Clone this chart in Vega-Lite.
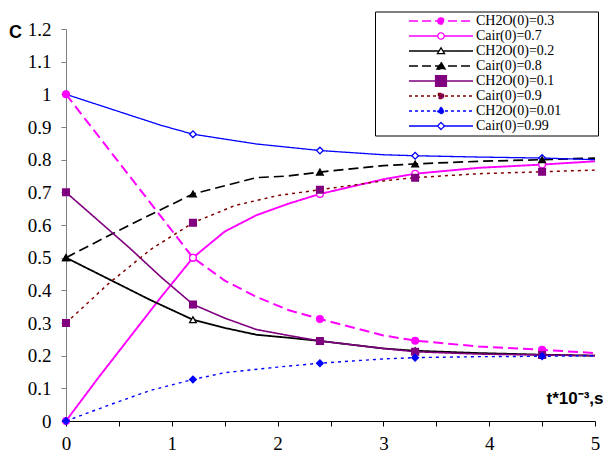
{
  "$schema": "https://vega.github.io/schema/vega-lite/v6.json",
  "width": 529,
  "height": 392,
  "autosize": {"type": "none"},
  "padding": {"left": 66, "top": 29, "right": 8, "bottom": 31},
  "background": "white",
  "config": {
    "view": {"stroke": null},
    "font": "Liberation Serif",
    "axis": {"grid": false, "labelColor": "black", "titleColor": "black"}
  },
  "datasets": {
    "curves": [
      {"s": "CH2O(0)=0.3", "t": 0, "c": 1.0},
      {"s": "CH2O(0)=0.3", "t": 0.6, "c": 0.75},
      {"s": "CH2O(0)=0.3", "t": 1.2, "c": 0.5},
      {"s": "CH2O(0)=0.3", "t": 1.5, "c": 0.43},
      {"s": "CH2O(0)=0.3", "t": 1.8, "c": 0.38},
      {"s": "CH2O(0)=0.3", "t": 2.1, "c": 0.34},
      {"s": "CH2O(0)=0.3", "t": 2.4, "c": 0.312},
      {"s": "CH2O(0)=0.3", "t": 3.0, "c": 0.262},
      {"s": "CH2O(0)=0.3", "t": 3.3, "c": 0.246},
      {"s": "CH2O(0)=0.3", "t": 3.9, "c": 0.228},
      {"s": "CH2O(0)=0.3", "t": 4.5, "c": 0.218},
      {"s": "CH2O(0)=0.3", "t": 5.0, "c": 0.208},
      {"s": "Cair(0)=0.7", "t": 0, "c": 0},
      {"s": "Cair(0)=0.7", "t": 0.3, "c": 0.13},
      {"s": "Cair(0)=0.7", "t": 0.6, "c": 0.255},
      {"s": "Cair(0)=0.7", "t": 0.9, "c": 0.38},
      {"s": "Cair(0)=0.7", "t": 1.2, "c": 0.5},
      {"s": "Cair(0)=0.7", "t": 1.5, "c": 0.58},
      {"s": "Cair(0)=0.7", "t": 1.8, "c": 0.63},
      {"s": "Cair(0)=0.7", "t": 2.1, "c": 0.665},
      {"s": "Cair(0)=0.7", "t": 2.4, "c": 0.695},
      {"s": "Cair(0)=0.7", "t": 3.0, "c": 0.74},
      {"s": "Cair(0)=0.7", "t": 3.3, "c": 0.757},
      {"s": "Cair(0)=0.7", "t": 3.9, "c": 0.775},
      {"s": "Cair(0)=0.7", "t": 4.5, "c": 0.785},
      {"s": "Cair(0)=0.7", "t": 5.0, "c": 0.795},
      {"s": "CH2O(0)=0.2", "t": 0, "c": 0.5},
      {"s": "CH2O(0)=0.2", "t": 0.4, "c": 0.435},
      {"s": "CH2O(0)=0.2", "t": 0.8, "c": 0.37},
      {"s": "CH2O(0)=0.2", "t": 1.2, "c": 0.31},
      {"s": "CH2O(0)=0.2", "t": 1.5, "c": 0.285},
      {"s": "CH2O(0)=0.2", "t": 1.8, "c": 0.264},
      {"s": "CH2O(0)=0.2", "t": 2.1, "c": 0.255},
      {"s": "CH2O(0)=0.2", "t": 2.4, "c": 0.245},
      {"s": "CH2O(0)=0.2", "t": 3.0, "c": 0.222},
      {"s": "CH2O(0)=0.2", "t": 3.3, "c": 0.215},
      {"s": "CH2O(0)=0.2", "t": 3.9, "c": 0.208},
      {"s": "CH2O(0)=0.2", "t": 4.5, "c": 0.203},
      {"s": "CH2O(0)=0.2", "t": 5.0, "c": 0.2},
      {"s": "Cair(0)=0.8", "t": 0, "c": 0.5},
      {"s": "Cair(0)=0.8", "t": 0.6, "c": 0.6},
      {"s": "Cair(0)=0.8", "t": 1.2, "c": 0.695},
      {"s": "Cair(0)=0.8", "t": 1.5, "c": 0.72},
      {"s": "Cair(0)=0.8", "t": 1.8, "c": 0.745},
      {"s": "Cair(0)=0.8", "t": 2.1, "c": 0.75},
      {"s": "Cair(0)=0.8", "t": 2.4, "c": 0.762},
      {"s": "Cair(0)=0.8", "t": 3.0, "c": 0.782},
      {"s": "Cair(0)=0.8", "t": 3.3, "c": 0.787},
      {"s": "Cair(0)=0.8", "t": 3.9, "c": 0.795},
      {"s": "Cair(0)=0.8", "t": 4.5, "c": 0.8},
      {"s": "Cair(0)=0.8", "t": 5.0, "c": 0.805},
      {"s": "CH2O(0)=0.1", "t": 0, "c": 0.7},
      {"s": "CH2O(0)=0.1", "t": 0.6, "c": 0.53},
      {"s": "CH2O(0)=0.1", "t": 0.9, "c": 0.44},
      {"s": "CH2O(0)=0.1", "t": 1.2, "c": 0.357},
      {"s": "CH2O(0)=0.1", "t": 1.5, "c": 0.315},
      {"s": "CH2O(0)=0.1", "t": 1.8, "c": 0.28},
      {"s": "CH2O(0)=0.1", "t": 2.1, "c": 0.262},
      {"s": "CH2O(0)=0.1", "t": 2.4, "c": 0.245},
      {"s": "CH2O(0)=0.1", "t": 3.0, "c": 0.222},
      {"s": "CH2O(0)=0.1", "t": 3.3, "c": 0.212},
      {"s": "CH2O(0)=0.1", "t": 3.9, "c": 0.205},
      {"s": "CH2O(0)=0.1", "t": 4.5, "c": 0.202},
      {"s": "CH2O(0)=0.1", "t": 5.0, "c": 0.2},
      {"s": "Cair(0)=0.9", "t": 0, "c": 0.3},
      {"s": "Cair(0)=0.9", "t": 0.4, "c": 0.42},
      {"s": "Cair(0)=0.9", "t": 0.8, "c": 0.525},
      {"s": "Cair(0)=0.9", "t": 1.2, "c": 0.607},
      {"s": "Cair(0)=0.9", "t": 1.6, "c": 0.66},
      {"s": "Cair(0)=0.9", "t": 2.0, "c": 0.69},
      {"s": "Cair(0)=0.9", "t": 2.4, "c": 0.708},
      {"s": "Cair(0)=0.9", "t": 3.0, "c": 0.735},
      {"s": "Cair(0)=0.9", "t": 3.3, "c": 0.745},
      {"s": "Cair(0)=0.9", "t": 3.9, "c": 0.757},
      {"s": "Cair(0)=0.9", "t": 4.5, "c": 0.763},
      {"s": "Cair(0)=0.9", "t": 5.0, "c": 0.768},
      {"s": "CH2O(0)=0.01", "t": 0, "c": 0},
      {"s": "CH2O(0)=0.01", "t": 0.4, "c": 0.048},
      {"s": "CH2O(0)=0.01", "t": 0.8, "c": 0.094},
      {"s": "CH2O(0)=0.01", "t": 1.2, "c": 0.127},
      {"s": "CH2O(0)=0.01", "t": 1.5, "c": 0.148},
      {"s": "CH2O(0)=0.01", "t": 2.0, "c": 0.165},
      {"s": "CH2O(0)=0.01", "t": 2.4, "c": 0.177},
      {"s": "CH2O(0)=0.01", "t": 3.0, "c": 0.19},
      {"s": "CH2O(0)=0.01", "t": 3.3, "c": 0.194},
      {"s": "CH2O(0)=0.01", "t": 3.9, "c": 0.197},
      {"s": "CH2O(0)=0.01", "t": 4.5, "c": 0.198},
      {"s": "CH2O(0)=0.01", "t": 5.0, "c": 0.2},
      {"s": "Cair(0)=0.99", "t": 0, "c": 1.0},
      {"s": "Cair(0)=0.99", "t": 0.9, "c": 0.905},
      {"s": "Cair(0)=0.99", "t": 1.2, "c": 0.878},
      {"s": "Cair(0)=0.99", "t": 1.8, "c": 0.848},
      {"s": "Cair(0)=0.99", "t": 2.4, "c": 0.828},
      {"s": "Cair(0)=0.99", "t": 3.0, "c": 0.815},
      {"s": "Cair(0)=0.99", "t": 3.3, "c": 0.812},
      {"s": "Cair(0)=0.99", "t": 3.9, "c": 0.808},
      {"s": "Cair(0)=0.99", "t": 4.5, "c": 0.805},
      {"s": "Cair(0)=0.99", "t": 5.0, "c": 0.8}
    ],
    "markers": [
      {"s": "Cair(0)=0.99", "t": 0, "c": 1.0},
      {"s": "Cair(0)=0.99", "t": 1.2, "c": 0.878},
      {"s": "Cair(0)=0.99", "t": 2.4, "c": 0.828},
      {"s": "Cair(0)=0.99", "t": 3.3, "c": 0.812},
      {"s": "Cair(0)=0.99", "t": 4.5, "c": 0.805},
      {"s": "CH2O(0)=0.3", "t": 0, "c": 1.0},
      {"s": "CH2O(0)=0.3", "t": 1.2, "c": 0.5},
      {"s": "CH2O(0)=0.3", "t": 2.4, "c": 0.312},
      {"s": "CH2O(0)=0.3", "t": 3.3, "c": 0.246},
      {"s": "CH2O(0)=0.3", "t": 4.5, "c": 0.218},
      {"s": "Cair(0)=0.7", "t": 0, "c": 0},
      {"s": "Cair(0)=0.7", "t": 1.2, "c": 0.5},
      {"s": "Cair(0)=0.7", "t": 2.4, "c": 0.695},
      {"s": "Cair(0)=0.7", "t": 3.3, "c": 0.757},
      {"s": "Cair(0)=0.7", "t": 4.5, "c": 0.785},
      {"s": "CH2O(0)=0.2", "t": 0, "c": 0.5},
      {"s": "CH2O(0)=0.2", "t": 1.2, "c": 0.31},
      {"s": "CH2O(0)=0.2", "t": 2.4, "c": 0.245},
      {"s": "CH2O(0)=0.2", "t": 3.3, "c": 0.215},
      {"s": "CH2O(0)=0.2", "t": 4.5, "c": 0.203},
      {"s": "Cair(0)=0.8", "t": 0, "c": 0.5},
      {"s": "Cair(0)=0.8", "t": 1.2, "c": 0.695},
      {"s": "Cair(0)=0.8", "t": 2.4, "c": 0.762},
      {"s": "Cair(0)=0.8", "t": 3.3, "c": 0.787},
      {"s": "Cair(0)=0.8", "t": 4.5, "c": 0.8},
      {"s": "CH2O(0)=0.1", "t": 0, "c": 0.7},
      {"s": "CH2O(0)=0.1", "t": 1.2, "c": 0.357},
      {"s": "CH2O(0)=0.1", "t": 2.4, "c": 0.245},
      {"s": "CH2O(0)=0.1", "t": 3.3, "c": 0.212},
      {"s": "CH2O(0)=0.1", "t": 4.5, "c": 0.202},
      {"s": "Cair(0)=0.9", "t": 0, "c": 0.3},
      {"s": "Cair(0)=0.9", "t": 1.2, "c": 0.607},
      {"s": "Cair(0)=0.9", "t": 2.4, "c": 0.708},
      {"s": "Cair(0)=0.9", "t": 3.3, "c": 0.745},
      {"s": "Cair(0)=0.9", "t": 4.5, "c": 0.763},
      {"s": "CH2O(0)=0.01", "t": 0, "c": 0},
      {"s": "CH2O(0)=0.01", "t": 1.2, "c": 0.127},
      {"s": "CH2O(0)=0.01", "t": 2.4, "c": 0.177},
      {"s": "CH2O(0)=0.01", "t": 3.3, "c": 0.194},
      {"s": "CH2O(0)=0.01", "t": 4.5, "c": 0.198}
    ]
  },
  "encoding": {
    "x": {
      "field": "t", "type": "quantitative",
      "scale": {"domain": [0, 5], "nice": false},
      "axis": {
        "values": [0, 0.5, 1, 1.5, 2, 2.5, 3, 3.5, 4, 4.5, 5],
        "format": "~g",
        "labelExpr": "datum.value % 1 === 0 ? datum.label : ''",
        "labelFont": "Liberation Serif", "labelFontSize": 19, "labelPadding": 8,
        "tickSize": 5, "tickColor": "black", "domainColor": "black", "labelFlush": false, "labelOverlap": false,
        "title": "t*10⁻³,s", "titleFont": "Liberation Sans", "titleFontWeight": "bold", "titleFontSize": 17,
        "titleAlign": "right", "titleBaseline": "middle", "titleX": 537, "titleY": -23, "titleAngle": 0
      }
    },
    "y": {
      "field": "c", "type": "quantitative",
      "scale": {"domain": [0, 1.2], "nice": false},
      "axis": {
        "values": [0, 0.1, 0.2, 0.3, 0.4, 0.5, 0.6, 0.7, 0.8, 0.9, 1, 1.1, 1.2],
        "format": "~g",
        "labelFont": "Liberation Serif", "labelFontSize": 19, "labelPadding": 10,
        "tickSize": 5, "tickColor": "#808080", "domainColor": "#808080", "labelFlush": false, "labelOverlap": false,
        "title": "C", "titleFont": "Liberation Sans", "titleFontWeight": "bold", "titleFontSize": 18,
        "titleAngle": 0, "titleAlign": "center", "titleBaseline": "middle", "titleX": -51, "titleY": 3
      }
    }
  },
  "layer": [
    {
      "data": {"name": "curves"},
      "mark": {"type": "line", "interpolate": "linear"},
      "encoding": {
        "stroke": {"field": "s", "type": "nominal", "legend": null,
          "scale": {"domain": ["CH2O(0)=0.3", "Cair(0)=0.7", "CH2O(0)=0.2", "Cair(0)=0.8", "CH2O(0)=0.1", "Cair(0)=0.9", "CH2O(0)=0.01", "Cair(0)=0.99"],
                    "range": ["#ff00ff", "#ff00ff", "#000000", "#000000", "#800080", "#800000", "#0000ff", "#0000ff"]}},
        "strokeDash": {"field": "s", "type": "nominal", "legend": null,
          "scale": {"domain": ["CH2O(0)=0.3", "Cair(0)=0.7", "CH2O(0)=0.2", "Cair(0)=0.8", "CH2O(0)=0.1", "Cair(0)=0.9", "CH2O(0)=0.01", "Cair(0)=0.99"],
                    "range": [[10, 5], [1, 0], [1, 0], [10, 5], [1, 0], [3, 4], [3, 4], [1, 0]]}},
        "strokeWidth": {"field": "s", "type": "nominal", "legend": null,
          "scale": {"domain": ["CH2O(0)=0.3", "Cair(0)=0.7", "CH2O(0)=0.2", "Cair(0)=0.8", "CH2O(0)=0.1", "Cair(0)=0.9", "CH2O(0)=0.01", "Cair(0)=0.99"],
                    "range": [2, 1.3, 1.3, 2, 1.3, 2.5, 2.5, 1.4]}}
      }
    },
    {
      "data": {"name": "markers"},
      "mark": {"type": "point", "opacity": 1, "strokeWidth": 1.3},
      "encoding": {
        "shape": {"field": "s", "type": "nominal", "legend": null,
          "scale": {"domain": ["CH2O(0)=0.3", "Cair(0)=0.7", "CH2O(0)=0.2", "Cair(0)=0.8", "CH2O(0)=0.1", "Cair(0)=0.9", "CH2O(0)=0.01", "Cair(0)=0.99"],
                    "range": ["circle", "circle", "triangle-up", "triangle-up", "square", "square", "diamond", "diamond"]}},
        "size": {"field": "s", "type": "nominal", "legend": null,
          "scale": {"domain": ["CH2O(0)=0.3", "Cair(0)=0.7", "CH2O(0)=0.2", "Cair(0)=0.8", "CH2O(0)=0.1", "Cair(0)=0.9", "CH2O(0)=0.01", "Cair(0)=0.99"],
                    "range": [45, 45, 50, 64, 150, 40, 55, 90]}},
        "fill": {"field": "s", "type": "nominal", "legend": null,
          "scale": {"domain": ["CH2O(0)=0.3", "Cair(0)=0.7", "CH2O(0)=0.2", "Cair(0)=0.8", "CH2O(0)=0.1", "Cair(0)=0.9", "CH2O(0)=0.01", "Cair(0)=0.99"],
                    "range": ["#ff00ff", "#ffffff", "#ffffff", "#000000", "#800080", "#800080", "#0000ff", "#ffffff"]}},
        "stroke": {"field": "s", "type": "nominal", "legend": null,
          "scale": {"domain": ["CH2O(0)=0.3", "Cair(0)=0.7", "CH2O(0)=0.2", "Cair(0)=0.8", "CH2O(0)=0.1", "Cair(0)=0.9", "CH2O(0)=0.01", "Cair(0)=0.99"],
                    "range": ["#ff00ff", "#ff00ff", "#000000", "#000000", "#800080", "#800080", "#0000ff", "#0000ff"]}}
      }
    },
    {
      "data": {"name": "markers"},
      "mark": {"type": "point", "opacity": 0},
      "encoding": {
        "shape": {"field": "s", "type": "nominal",
          "scale": {"domain": ["CH2O(0)=0.3", "Cair(0)=0.7", "CH2O(0)=0.2", "Cair(0)=0.8", "CH2O(0)=0.1", "Cair(0)=0.9", "CH2O(0)=0.01", "Cair(0)=0.99"],
                    "range": [
                      "M-1,0H1M-0.1,0A0.1,0.1 0 1,1 0.1,0A0.1,0.1 0 1,1 -0.1,0Z",
                      "M-1,0H-0.1M0.1,0H1M-0.1,0A0.1,0.1 0 1,1 0.1,0A0.1,0.1 0 1,1 -0.1,0Z",
                      "M-1,0H-0.07M0.07,0H1M0,-0.1L0.11,0.08L-0.11,0.08Z",
                      "M-1,0H1M0,-0.12L0.13,0.1L-0.13,0.1Z",
                      "M-1,0H1M-0.17,-0.17H0.17V0.17H-0.17Z",
                      "M-1,0H1M-0.08,-0.08H0.08V0.08H-0.08Z",
                      "M-1,0H1M0,-0.11L0.11,0L0,0.11L-0.11,0Z",
                      "M-1,0H-0.11M0.11,0H1M0,-0.11L0.11,0L0,0.11L-0.11,0Z"
                    ]},
          "legend": {"title": "\u00a0", "orient": "none", "legendX": 309, "legendY": -17.5, "padding": 2,
                     "strokeColor": "black", "fillColor": "white", "symbolSize": 4096, "clipHeight": 15, "rowPadding": 0,
                     "symbolOffset": 31, "labelOffset": 2, "labelFont": "Liberation Serif", "labelFontSize": 14, "labelColor": "black",
                     "symbolStrokeWidth": 1.3, "symbolOpacity": 1, "titleOrient": "right", "titlePadding": 35, "titleFontSize": 6}},
        "stroke": {"field": "s", "type": "nominal",
          "scale": {"domain": ["CH2O(0)=0.3", "Cair(0)=0.7", "CH2O(0)=0.2", "Cair(0)=0.8", "CH2O(0)=0.1", "Cair(0)=0.9", "CH2O(0)=0.01", "Cair(0)=0.99"],
                    "range": ["#ff00ff", "#ff00ff", "#000000", "#000000", "#800080", "#800000", "#0000ff", "#0000ff"]},
          "legend": {"title": "\u00a0", "orient": "none", "legendX": 309, "legendY": -17.5, "padding": 2,
                     "strokeColor": "black", "fillColor": "white", "symbolSize": 4096, "clipHeight": 15, "rowPadding": 0,
                     "symbolOffset": 31, "labelOffset": 2, "labelFont": "Liberation Serif", "labelFontSize": 14, "labelColor": "black",
                     "symbolStrokeWidth": 1.3, "symbolOpacity": 1, "titleOrient": "right", "titlePadding": 35, "titleFontSize": 6}},
        "fill": {"field": "s", "type": "nominal",
          "scale": {"domain": ["CH2O(0)=0.3", "Cair(0)=0.7", "CH2O(0)=0.2", "Cair(0)=0.8", "CH2O(0)=0.1", "Cair(0)=0.9", "CH2O(0)=0.01", "Cair(0)=0.99"],
                    "range": ["#ff00ff", "#ffffff", "#ffffff", "#000000", "#800080", "#800080", "#0000ff", "#ffffff"]},
          "legend": {"title": "\u00a0", "orient": "none", "legendX": 309, "legendY": -17.5, "padding": 2,
                     "strokeColor": "black", "fillColor": "white", "symbolSize": 4096, "clipHeight": 15, "rowPadding": 0,
                     "symbolOffset": 31, "labelOffset": 2, "labelFont": "Liberation Serif", "labelFontSize": 14, "labelColor": "black",
                     "symbolStrokeWidth": 1.3, "symbolOpacity": 1, "titleOrient": "right", "titlePadding": 35, "titleFontSize": 6}},
        "strokeDash": {"field": "s", "type": "nominal",
          "scale": {"domain": ["CH2O(0)=0.3", "Cair(0)=0.7", "CH2O(0)=0.2", "Cair(0)=0.8", "CH2O(0)=0.1", "Cair(0)=0.9", "CH2O(0)=0.01", "Cair(0)=0.99"],
                    "range": [[9, 4], [1, 0], [1, 0], [9, 4], [1, 0], [3, 3], [3, 3], [1, 0]]},
          "legend": {"title": "\u00a0", "orient": "none", "legendX": 309, "legendY": -17.5, "padding": 2,
                     "strokeColor": "black", "fillColor": "white", "symbolSize": 4096, "clipHeight": 15, "rowPadding": 0,
                     "symbolOffset": 31, "labelOffset": 2, "labelFont": "Liberation Serif", "labelFontSize": 14, "labelColor": "black",
                     "symbolStrokeWidth": 1.3, "symbolOpacity": 1, "titleOrient": "right", "titlePadding": 35, "titleFontSize": 6}}
      }
    }
  ],
  "resolve": {
    "scale": {"stroke": "independent", "fill": "independent", "shape": "independent", "strokeDash": "independent", "size": "independent", "strokeWidth": "independent"}
  }
}
